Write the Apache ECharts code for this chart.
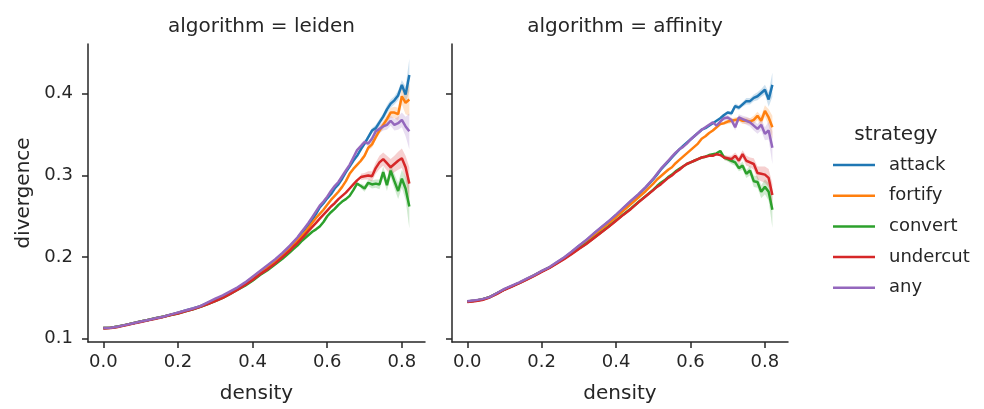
<!DOCTYPE html>
<html><head><meta charset="utf-8">
<script src="https://cdn.jsdelivr.net/npm/echarts@6/dist/echarts.min.js"></script>
<style>html,body{margin:0;padding:0;background:#fff}#c{width:984px;height:409px}</style>
</head><body><div id="c"></div>
<script>
const strategies = ['attack', 'fortify', 'convert', 'undercut', 'any'];
const colors = ['#1f77b4', '#ff7f0e', '#2ca02c', '#d62728', '#9467bd'];
const panelTitles = ['algorithm = leiden', 'algorithm = affinity'];
const xTicks = [0, 0.2, 0.4, 0.6, 0.8];
const yTicks = [0.1, 0.2, 0.3, 0.4];

const density = [0,0.02,0.04,0.06,0.08,0.10,0.12,0.14,0.16,0.18,0.20,0.22,0.24,0.26,0.28,0.30,0.32,0.34,0.36,0.38,0.40,0.42,0.44,0.46,0.48,0.50,
  0.51,0.52,0.53,0.54,0.55,0.56,0.57,0.58,0.59,0.60,0.61,0.62,0.63,0.64,0.65,0.66,0.67,0.68,0.69,0.70,0.71,0.72,0.73,0.74,0.75,0.76,0.77,0.78,0.79,0.80,0.81,0.82];

// leiden
const leidenAttack = [0.113,0.1135,0.115,0.117,0.119,0.121,0.123,0.125,0.127,0.1295,0.132,0.1345,0.137,0.140,0.144,0.148,0.152,0.157,0.162,0.168,0.175,0.182,0.189,0.196,0.204,0.213,
  0.218,0.223,0.229,0.234,0.240,0.246,0.253,0.261,0.266,0.272,0.277,0.284,0.289,0.296,0.304,0.311,0.318,0.324,0.332,0.339,0.347,0.355,0.358,0.365,0.372,0.381,0.388,0.392,0.398,0.411,0.399,0.423];
const leidenFortify = [0.113,0.1135,0.115,0.117,0.119,0.121,0.123,0.125,0.127,0.129,0.1315,0.134,0.1365,0.1395,0.143,0.147,0.151,0.156,0.161,0.167,0.174,0.181,0.187,0.194,0.202,0.210,
  0.215,0.220,0.225,0.230,0.236,0.242,0.248,0.253,0.258,0.264,0.270,0.275,0.280,0.286,0.293,0.302,0.308,0.313,0.318,0.324,0.334,0.338,0.347,0.355,0.362,0.369,0.377,0.377,0.375,0.397,0.389,0.393];
const leidenConvert = [0.113,0.1135,0.115,0.117,0.119,0.121,0.123,0.125,0.127,0.129,0.131,0.1335,0.136,0.139,0.1425,0.146,0.150,0.155,0.160,0.165,0.171,0.178,0.184,0.191,0.198,0.206,
  0.210,0.214,0.219,0.223,0.227,0.231,0.234,0.2375,0.243,0.250,0.255,0.259,0.264,0.268,0.271,0.275,0.282,0.290,0.287,0.284,0.291,0.289,0.290,0.289,0.304,0.288,0.306,0.293,0.281,0.296,0.284,0.262];
const leidenUndercut = [0.1125,0.113,0.1145,0.1165,0.1185,0.1205,0.1225,0.1245,0.1265,0.129,0.131,0.1335,0.136,0.139,0.1425,0.146,0.150,0.155,0.160,0.166,0.172,0.179,0.185,0.192,0.200,0.208,
  0.213,0.217,0.222,0.227,0.232,0.237,0.242,0.247,0.252,0.257,0.262,0.266,0.271,0.275,0.279,0.284,0.289,0.294,0.298,0.299,0.300,0.299,0.309,0.316,0.320,0.315,0.310,0.314,0.318,0.321,0.310,0.290];
const leidenAny = [0.113,0.1135,0.115,0.117,0.119,0.121,0.123,0.125,0.127,0.1295,0.132,0.1345,0.137,0.140,0.1445,0.149,0.153,0.158,0.163,0.169,0.176,0.183,0.190,0.197,0.205,0.214,
  0.219,0.224,0.230,0.236,0.242,0.249,0.256,0.263,0.268,0.274,0.281,0.287,0.292,0.299,0.306,0.313,0.322,0.331,0.336,0.341,0.339,0.345,0.354,0.357,0.360,0.362,0.367,0.362,0.364,0.368,0.360,0.354];

// affinity
const affinityAttack = [0.1455,0.1465,0.148,0.151,0.1555,0.1605,0.1645,0.1685,0.173,0.1775,0.1825,0.187,0.193,0.199,0.206,0.2135,0.2205,0.2285,0.236,0.2435,0.2515,0.260,0.2685,0.2765,0.2855,0.2955,
  0.301,0.307,0.312,0.317,0.322,0.327,0.332,0.336,0.340,0.344,0.348,0.352,0.356,0.358,0.361,0.364,0.367,0.370,0.374,0.377,0.376,0.385,0.383,0.387,0.391,0.391,0.395,0.397,0.401,0.405,0.393,0.411];
const affinityFortify = [0.1455,0.1465,0.148,0.151,0.1555,0.1605,0.1645,0.1685,0.173,0.1775,0.1825,0.187,0.1925,0.1985,0.205,0.212,0.219,0.2265,0.234,0.241,0.249,0.257,0.265,0.273,0.281,0.290,
  0.295,0.299,0.303,0.307,0.310,0.315,0.319,0.323,0.327,0.331,0.335,0.339,0.345,0.348,0.352,0.355,0.359,0.363,0.364,0.366,0.367,0.368,0.369,0.367,0.367,0.366,0.368,0.373,0.367,0.379,0.371,0.359];
const affinityConvert = [0.1455,0.1465,0.148,0.151,0.1555,0.1605,0.1645,0.1685,0.173,0.1775,0.1825,0.187,0.1925,0.198,0.204,0.2105,0.2165,0.2235,0.2305,0.2375,0.245,0.2525,0.2595,0.2675,0.275,0.2825,
  0.287,0.291,0.294,0.298,0.301,0.305,0.308,0.311,0.314,0.316,0.318,0.320,0.322,0.323,0.325,0.326,0.327,0.330,0.322,0.320,0.318,0.316,0.309,0.312,0.302,0.306,0.293,0.292,0.280,0.286,0.280,0.258];
const affinityUndercut = [0.145,0.146,0.1475,0.1505,0.155,0.160,0.164,0.168,0.1725,0.177,0.182,0.1865,0.192,0.1975,0.2035,0.210,0.216,0.223,0.230,0.237,0.2445,0.252,0.259,0.267,0.2745,0.282,
  0.286,0.289,0.293,0.297,0.300,0.304,0.307,0.311,0.314,0.316,0.318,0.320,0.322,0.323,0.324,0.324,0.326,0.325,0.322,0.321,0.320,0.324,0.318,0.326,0.318,0.316,0.314,0.303,0.302,0.301,0.297,0.276];
const affinityAny = [0.146,0.147,0.1485,0.151,0.156,0.161,0.165,0.169,0.1735,0.178,0.183,0.1875,0.1935,0.1995,0.2065,0.214,0.221,0.229,0.2365,0.244,0.252,0.2605,0.269,0.277,0.286,0.296,
  0.302,0.308,0.313,0.318,0.323,0.328,0.332,0.335,0.339,0.344,0.348,0.352,0.356,0.359,0.362,0.365,0.361,0.366,0.370,0.371,0.368,0.359,0.371,0.369,0.367,0.365,0.361,0.357,0.362,0.351,0.355,0.334];

// confidence-band half widths for the last 14 densities (0.69 .. 0.82)
const bandDensity = [0.69,0.70,0.71,0.72,0.73,0.74,0.75,0.76,0.77,0.78,0.79,0.80,0.81,0.82];
const leidenAttackCI   = [0.003,0.003,0.003,0.003,0.004,0.004,0.004,0.005,0.005,0.005,0.006,0.006,0.010,0.020];
const leidenFortifyCI  = [0.003,0.003,0.003,0.004,0.004,0.004,0.005,0.005,0.006,0.007,0.008,0.010,0.014,0.020];
const leidenConvertCI  = [0.003,0.004,0.004,0.005,0.005,0.006,0.007,0.007,0.008,0.009,0.010,0.011,0.014,0.027];
const leidenUndercutCI = [0.004,0.004,0.005,0.006,0.007,0.008,0.008,0.009,0.010,0.010,0.011,0.012,0.014,0.020];
const leidenAnyCI      = [0.003,0.003,0.003,0.004,0.004,0.005,0.005,0.006,0.006,0.007,0.008,0.009,0.012,0.022];
const affinityAttackCI   = [0.002,0.002,0.003,0.003,0.003,0.003,0.004,0.004,0.004,0.005,0.005,0.006,0.009,0.015];
const affinityFortifyCI  = [0.002,0.003,0.003,0.003,0.003,0.004,0.004,0.004,0.005,0.005,0.006,0.007,0.010,0.014];
const affinityConvertCI  = [0.003,0.003,0.004,0.004,0.004,0.005,0.005,0.006,0.007,0.007,0.008,0.009,0.011,0.022];
const affinityUndercutCI = [0.003,0.003,0.004,0.004,0.005,0.005,0.006,0.006,0.007,0.008,0.009,0.010,0.011,0.014];
const affinityAnyCI      = [0.003,0.003,0.003,0.004,0.004,0.004,0.005,0.005,0.006,0.006,0.007,0.008,0.011,0.020];

const panels = [
  { values: [leidenAttack, leidenFortify, leidenConvert, leidenUndercut, leidenAny],
    ci: [leidenAttackCI, leidenFortifyCI, leidenConvertCI, leidenUndercutCI, leidenAnyCI] },
  { values: [affinityAttack, affinityFortify, affinityConvert, affinityUndercut, affinityAny],
    ci: [affinityAttackCI, affinityFortifyCI, affinityConvertCI, affinityUndercutCI, affinityAnyCI] }
];

const FONT = 'DejaVu Sans';
const TXT = '#262626';
const chart = echarts.init(document.getElementById('c'), null, { renderer: 'canvas' });

const grids = [
  { left: 88, top: 44, width: 337, height: 301 },
  { left: 452, top: 44, width: 336, height: 301 }
];

const xAxes = grids.map((g, i) => ({
  gridIndex: i, type: 'value', min: -0.041, max: 0.862,
  axisLine: { show: true, onZero: false, lineStyle: { color: TXT, width: 1.5 } },
  axisTick: { show: true, length: 6, customValues: xTicks, lineStyle: { color: TXT, width: 1.5 } },
  axisLabel: { customValues: xTicks, formatter: v => v.toFixed(1), fontFamily: FONT, fontSize: 18, color: TXT, margin: 11 },
  splitLine: { show: false },
  name: 'density', nameLocation: 'middle', nameGap: 42,
  nameTextStyle: { fontFamily: FONT, fontSize: 20, color: TXT }
}));

const yAxes = grids.map((g, i) => ({
  gridIndex: i, type: 'value', min: 0.096, max: 0.461,
  axisLine: { show: true, onZero: false, lineStyle: { color: TXT, width: 1.5 } },
  axisTick: { show: true, length: 6, customValues: yTicks, lineStyle: { color: TXT, width: 1.5 } },
  axisLabel: { show: i === 0, customValues: yTicks, formatter: v => v.toFixed(1), fontFamily: FONT, fontSize: 18, color: TXT, margin: 15 },
  splitLine: { show: false },
  name: i === 0 ? 'divergence' : '', nameLocation: 'middle', nameGap: 54,
  nameTextStyle: { fontFamily: FONT, fontSize: 20, color: TXT }
}));

const series = [];
const tailStart = density.length - bandDensity.length;
panels.forEach((p, gi) => {
  strategies.forEach((s, si) => {
    const vals = p.values[si].slice(tailStart);
    const hw = p.ci[si];
    const data = bandDensity.map((x, k) => [x, vals[k] - hw[k], vals[k] + hw[k]]);
    series.push({
      type: 'custom', xAxisIndex: gi, yAxisIndex: gi, silent: true, z: 1, clip: true,
      encode: { x: 0, y: [1, 2] },
      data: data,
      renderItem: function (params, api) {
        if (params.dataIndex !== 0) return null;
        const pts = [];
        for (let k = 0; k < data.length; k++) pts.push(api.coord([data[k][0], data[k][2]]));
        for (let k = data.length - 1; k >= 0; k--) pts.push(api.coord([data[k][0], data[k][1]]));
        return { type: 'polygon', shape: { points: pts }, style: { fill: colors[si], opacity: 0.22 } };
      }
    });
  });
  strategies.forEach((s, si) => {
    series.push({
      name: s, type: 'line', xAxisIndex: gi, yAxisIndex: gi, z: 2,
      showSymbol: false, symbol: 'none', smooth: false,
      lineStyle: { color: colors[si], width: 2.5 },
      itemStyle: { color: colors[si] },
      data: density.map((x, k) => [x, p.values[si][k]])
    });
  });
});

chart.setOption({
  animation: false,
  backgroundColor: '#ffffff',
  title: [
    { text: panelTitles[0], left: 256.5, top: 12, textAlign: 'center', textStyle: { fontFamily: FONT, fontSize: 20, fontWeight: 'normal', color: TXT } },
    { text: panelTitles[1], left: 620, top: 12, textAlign: 'center', textStyle: { fontFamily: FONT, fontSize: 20, fontWeight: 'normal', color: TXT } },
    { text: 'strategy', left: 891, top: 120, textAlign: 'center', textStyle: { fontFamily: FONT, fontSize: 20, fontWeight: 'normal', color: TXT } }
  ],
  legend: {
    data: strategies, orient: 'vertical', left: 833, top: 156, padding: 0,
    icon: 'rect', itemWidth: 42, itemHeight: 2.5, itemGap: 12.7,
    textStyle: { fontFamily: FONT, fontSize: 18, color: TXT, lineHeight: 18, padding: [0, 0, 0, 9] },
    selectedMode: false
  },
  grid: grids,
  xAxis: xAxes,
  yAxis: yAxes,
  series: series
});
</script>
</body></html>
